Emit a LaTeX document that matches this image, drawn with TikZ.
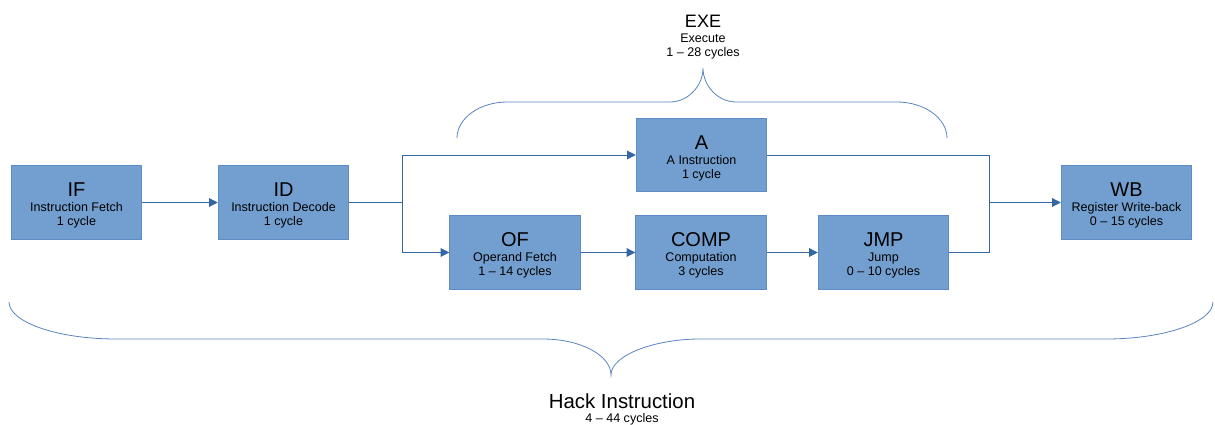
\documentclass[tikz,border=0pt]{standalone}
\usepackage{fontspec}
\setmainfont{Liberation Sans}
\usetikzlibrary{arrows.meta}

\definecolor{boxfill}{HTML}{729FCF}
\definecolor{boxline}{HTML}{5E8CC4}
\definecolor{wire}{HTML}{3465A4}
\definecolor{bracecol}{HTML}{5A84BE}

% stage title, with a strut that pushes the text block a little down
\newcommand{\stagename}[1]{{\fontsize{15pt}{15pt}\selectfont\rule{0pt}{15.2pt}#1}}

\begin{document}
\begin{tikzpicture}[x=0.75pt,y=-0.75pt,
  stage/.style={draw=boxline,fill=boxfill,line width=0.6pt,
    minimum width=98pt,minimum height=55pt,inner sep=0pt,align=center,
    font=\fontsize{9.4pt}{10.5pt}\selectfont},
  link/.style={draw=wire,line width=0.75pt},
  flow/.style={link,-{Triangle[length=6.5pt,width=6.5pt]}},
  brace/.style={draw=bracecol,line width=0.6pt},
  caption/.style={align=center,inner sep=0pt,anchor=north,
    font=\fontsize{9.4pt}{10.5pt}\selectfont}]
\useasboundingbox (0,0) rectangle (1215,425);

% The stages
\node[stage] (if) at (76.5,202.5) {\stagename{IF}\\[0.75pt]Instruction Fetch\\1 cycle};
\node[stage] (id) at (283.5,202.5) {\stagename{ID}\\[0.75pt]Instruction Decode\\1 cycle};
\node[stage] (a) at (701.5,155) {\stagename{A}\\[0.75pt]A Instruction\\1 cycle};
\node[stage] (of) at (515,252.5) {\stagename{OF}\\[0.75pt]Operand Fetch\\1 -- 14 cycles};
\node[stage] (comp) at (701,252.5) {\stagename{COMP}\\[0.75pt]Computation\\3 cycles};
\node[stage] (jmp) at (883.5,252.5) {\stagename{JMP}\\[0.75pt]Jump\\0 -- 10 cycles};
\node[stage] (wb) at (1126.5,202.5) {\stagename{WB}\\[0.75pt]Register Write-back\\0 -- 15 cycles};

% Split and merge points
\coordinate (split) at (402,202.5);
\coordinate (merge) at (989,202.5);

% Connections
\draw[flow] (if) -- (id);
\draw[link] (id) -- (split);
\draw[flow] (split) |- (a);
\draw[flow] (split) |- (of);
\draw[flow] (of) -- (comp);
\draw[flow] (comp) -- (jmp);
\draw[link] (a) -| (merge);
\draw[link] (jmp) -| (merge);
\draw[flow] (merge) -- (wb);

% Brace over the execute stages
\draw[brace] (457,138) .. controls (457,118) and (480,102) .. (507,102)
  -- (670,102) .. controls (688,102) and (703,86) .. (703,68)
  .. controls (703,86) and (718,102) .. (736,102)
  -- (897,102) .. controls (924,102) and (947,118) .. (947,138);
\node[caption] (exe) at (703,15) {{\fontsize{13.5pt}{13.5pt}\selectfont EXE}\\[0.6pt]Execute\\1 -- 28 cycles};

% Brace under the whole instruction
\draw[brace] (9,302) .. controls (9,322) and (57,339) .. (116,339)
  -- (543,339) .. controls (580,339) and (611,355) .. (611,375)
  .. controls (611,355) and (655,339) .. (700,339)
  -- (1106,339) .. controls (1165,339) and (1213,322) .. (1213,302);
\node[caption] (hack) at (622,393) {{\fontsize{15.3pt}{15.3pt}\selectfont Hack Instruction}\\[0.2pt]4 -- 44 cycles};
\end{tikzpicture}
\end{document}
